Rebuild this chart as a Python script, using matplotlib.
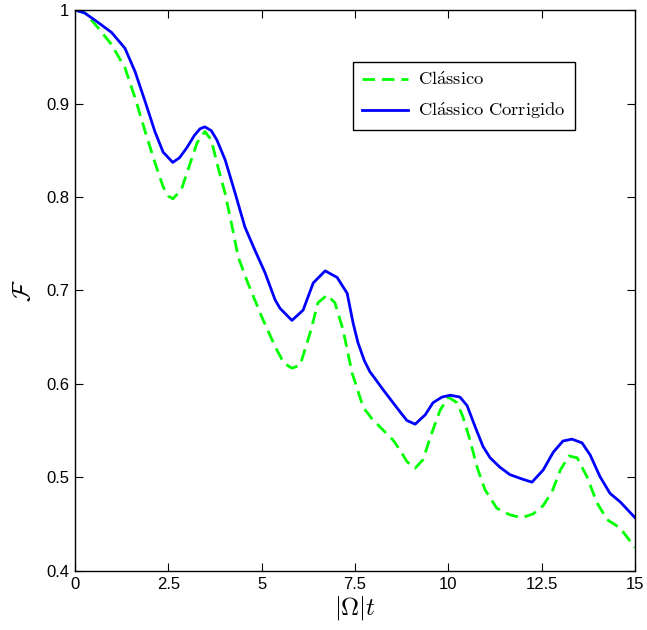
import matplotlib
matplotlib.use("Agg")
import matplotlib.pyplot as plt

x_corr = [0, 0.25, 0.54, 0.98, 1.34, 1.61, 1.88, 2.14, 2.36, 2.62, 2.8, 3.0, 3.2, 3.35,
          3.48, 3.65, 3.8, 4.02, 4.29, 4.55, 4.82, 5.09, 5.36, 5.49, 5.81, 6.11,
          6.38, 6.70, 7.02, 7.29, 7.45, 7.58, 7.75, 7.90, 8.05, 8.25, 8.71, 8.89,
          9.11, 9.38, 9.59, 9.83, 10.05, 10.31, 10.50, 10.72, 10.93, 11.12, 11.38,
          11.65, 12.0, 12.24, 12.54, 12.81, 13.07, 13.31, 13.58, 13.80, 14.06,
          14.33, 14.60, 15]
y_corr = [1.0, 0.997, 0.989, 0.976, 0.959, 0.934, 0.902, 0.870, 0.848, 0.837, 0.842, 0.853, 0.866, 0.873,
          0.875, 0.871, 0.861, 0.840, 0.804, 0.768, 0.743, 0.719, 0.690, 0.681, 0.668, 0.679,
          0.708, 0.721, 0.714, 0.697, 0.665, 0.644, 0.625, 0.613, 0.605, 0.594, 0.570, 0.561,
          0.557, 0.567, 0.580, 0.586, 0.588, 0.586, 0.577, 0.554, 0.533, 0.521, 0.511,
          0.503, 0.498, 0.495, 0.508, 0.527, 0.539, 0.541, 0.537, 0.524, 0.501,
          0.483, 0.474, 0.457]

x_class = [0, 0.27, 0.62, 0.98, 1.34, 1.61, 1.88, 2.14, 2.36, 2.5, 2.62, 2.85, 3.0,
           3.27, 3.48, 3.65, 3.83, 4.02, 4.21, 4.37, 4.63, 5.0, 5.36, 5.6, 5.81,
           6.03, 6.30, 6.51, 6.75, 6.96, 7.18, 7.42, 7.72, 7.95, 8.17, 8.52, 8.71,
           8.89, 9.11, 9.32, 9.56, 9.78, 10.0, 10.23, 10.39, 10.58, 10.77, 10.98,
           11.30, 11.65, 11.97, 12.27, 12.54, 12.78, 13.0, 13.23, 13.45, 13.71,
           13.98, 14.25, 14.60, 15]
y_class = [1.0, 0.997, 0.981, 0.963, 0.938, 0.906, 0.870, 0.837, 0.811, 0.801, 0.798, 0.808, 0.826,
           0.858, 0.870, 0.861, 0.832, 0.804, 0.768, 0.736, 0.708, 0.672, 0.640, 0.622, 0.617,
           0.620, 0.655, 0.687, 0.695, 0.687, 0.658, 0.612, 0.575, 0.563, 0.554, 0.540, 0.529,
           0.517, 0.510, 0.519, 0.548, 0.572, 0.586, 0.580, 0.565, 0.540, 0.511, 0.487,
           0.467, 0.460, 0.457, 0.461, 0.470, 0.485, 0.508, 0.523, 0.521, 0.501,
           0.473, 0.455, 0.446, 0.425]

xticks = [0, 2.5, 5, 7.5, 10, 12.5, 15]
xticklabels = ['0', '2.5', '5', '7.5', '10', '12.5', '15']
yticks = [0.4, 0.5, 0.6, 0.7, 0.8, 0.9, 1.0]
yticklabels = ['0.4', '0.5', '0.6', '0.7', '0.8', '0.9', '1']

plt.rcParams['mathtext.fontset'] = 'cm'
plt.rcParams['font.family'] = ['Liberation Sans', 'DejaVu Sans']

fig = plt.figure(figsize=(6.47, 6.3), dpi=100)
ax = fig.add_axes([0.1159, 0.0937, 0.8656, 0.8904])

ax.plot(x_class, y_class, color='#00ff00', lw=2, ls=(0, (4.5, 2.5)),
        label=r'$\mathrm{Cl\acute{a}ssico}$')
ax.plot(x_corr, y_corr, color='#0000ff', lw=2,
        label=r'$\mathrm{Cl\acute{a}ssico\ Corrigido}\;$')

ax.set_xlim(0, 15)
ax.set_ylim(0.4, 1.0)
ax.set_xticks(xticks)
ax.set_xticklabels(xticklabels)
ax.set_yticks(yticks)
ax.set_yticklabels(yticklabels)
ax.tick_params(direction='in', length=6, width=0.8, top=True, right=True,
               labelsize=12, pad=4)
for s in ax.spines.values():
    s.set_linewidth(1.0)

ax.set_xlabel(r'$|\Omega|t$', fontsize=18, labelpad=2)
ax.set_ylabel(r'$\mathcal{F}$', fontsize=18, labelpad=8)

leg = ax.legend(loc='upper left', bbox_to_anchor=(0.48, 0.923), fontsize=13.3,
                fancybox=False, edgecolor='black', framealpha=1,
                handlelength=2.5, handletextpad=0.5, borderpad=0.5,
                labelspacing=0.6)
leg.get_frame().set_linewidth(1.0)

fig.savefig('out.png', dpi=100)
